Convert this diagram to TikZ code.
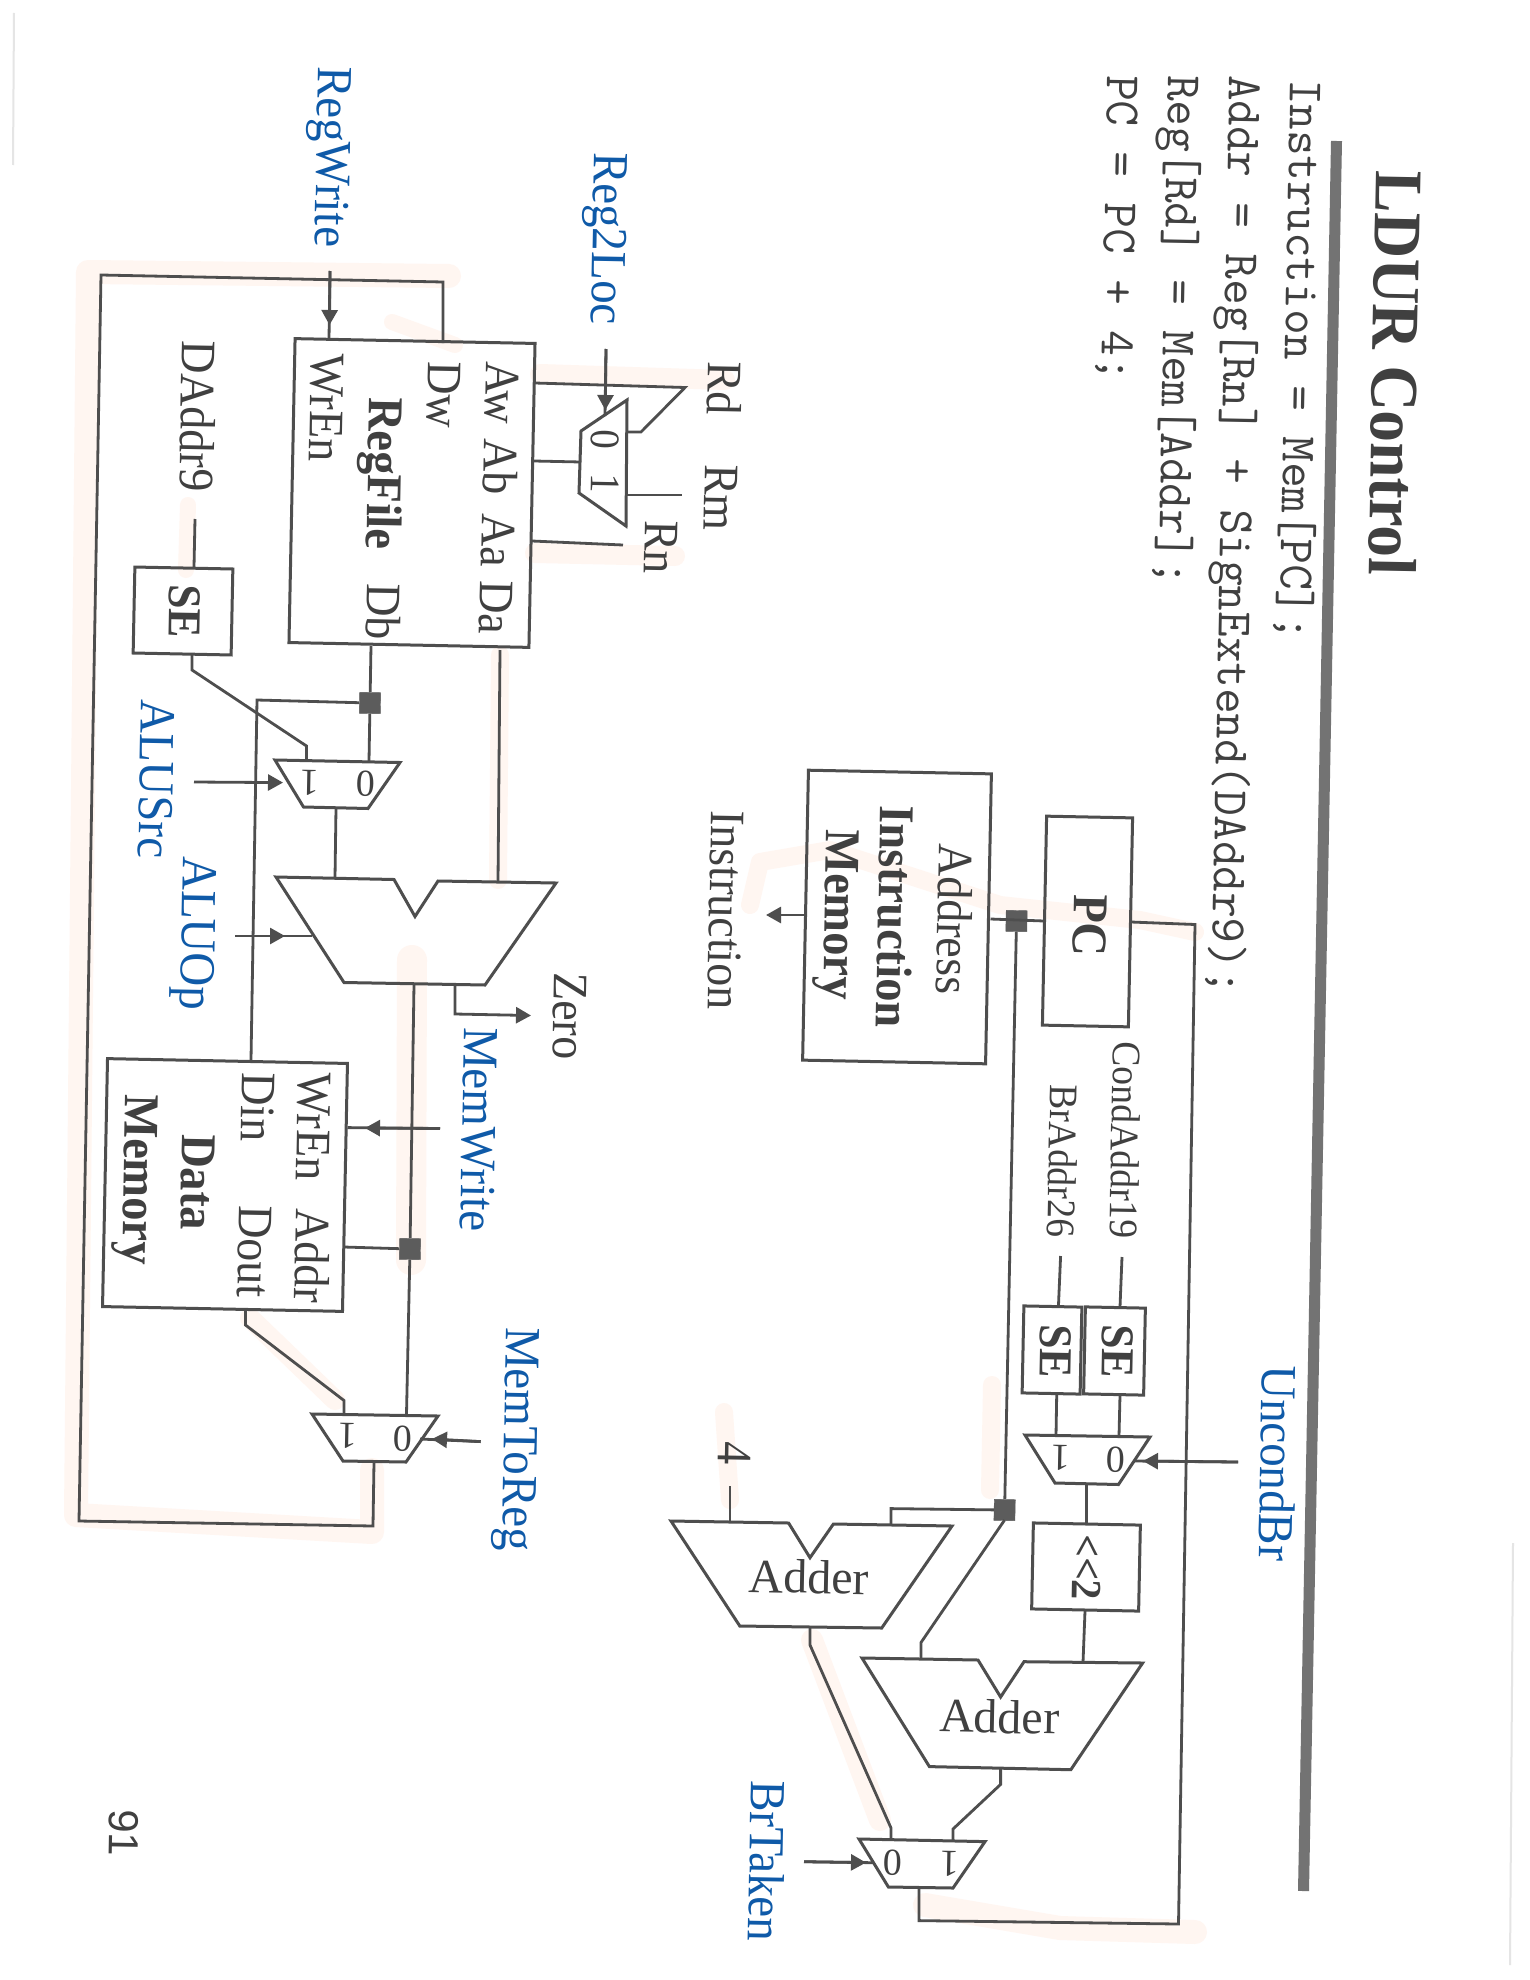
\documentclass[tikz,border=0pt]{standalone}
\usepackage{fontspec}
\setmainfont[FakeStretch=0.93]{Liberation Serif}
\newfontfamily\plainserif{Liberation Serif}
\newfontfamily\sansf{Liberation Sans}
\usetikzlibrary{arrows.meta}
\definecolor{ink}{HTML}{4E4E4E}
\definecolor{txt}{HTML}{404040}
\definecolor{sig}{HTML}{0F5AA8}
\definecolor{hl}{HTML}{FFF6F1}
\definecolor{rulec}{HTML}{737373}
\definecolor{dotc}{HTML}{5C5C5C}
\tikzset{
  wire/.style={draw=ink,line width=2.8pt,line join=miter},
  arr/.style={wire,-{Triangle[length=15pt,width=16pt]}},
  shapeline/.style={draw=ink,line width=3pt,line join=miter},
  boxn/.style={draw=ink,line width=3pt,rotate=-1.15,inner sep=0pt},
  dot/.style={draw=dotc,fill=dotc,rotate=-1.15,minimum size=21pt,inner sep=0pt},
  lab/.style={xshift=3.5pt,rotate=-91.1,anchor=base west,inner sep=0pt,text=txt,font=\fontsize{49.5}{52}\selectfont},
  labb/.style={lab,font=\fontsize{50}{52}\selectfont\bfseries},
  labs/.style={lab,font=\fontsize{40.5}{42}\selectfont},
  labse/.style={lab,font=\fontsize{47}{49}\selectfont\bfseries},
  ctl/.style={lab,text=sig,font=\fontsize{50.5}{52}\selectfont},
  code/.style={lab,text=txt,font=\fontsize{49.6}{52}\selectfont\ttfamily},
  digit/.style={rotate=178.9,inner sep=0pt,text=txt,font=\fontsize{38}{40}\selectfont\plainserif},
  digitr/.style={rotate=-91.1,inner sep=0pt,text=txt,font=\fontsize{42}{44}\selectfont},
  addertxt/.style={rotate=-1.1,inner sep=0pt,text=txt,font=\fontsize{48}{50}\selectfont\plainserif},
  high/.style={draw=hl,line width=24pt,line join=round,line cap=round},
  margin/.style={draw=black!10,line width=2pt}
}
\begin{document}
\begin{tikzpicture}[x=1pt,y=-1pt]
\useasboundingbox (0,0) rectangle (1530,1980);
\fill[white] (0,0) rectangle (1530,1980);

% scan margins
\draw[margin] (14,13) -- (13,165);
\draw[margin] (1513,1543) -- (1510,1965);

% highlighter
\draw[high] (449,276) -- (88,272) -- (76,1515) -- (372,1532) -- (372,1470);
\draw[high,line width=20pt] (540,374) -- (725,380);
\draw[high,line width=20pt] (535,553) -- (675,556);
\draw[high,line width=16pt] (392,322) -- (455,345);
\draw[high,line width=18pt] (500,655) -- (498,880);
\draw[high,line width=16pt] (188,505) -- (186,570);
\draw[high,line width=30pt] (412,960) -- (411,1260);
\draw[high,line width=20pt] (250,1318) -- (335,1400);
\draw[high,line width=18pt] (750,905) -- (760,862) -- (830,850) -- (1000,905) -- (1140,920) -- (1195,932);
\draw[high,line width=24pt] (925,1905) -- (1060,1928) -- (1195,1932);
\draw[high,line width=22pt] (812,1640) -- (880,1820);
\draw[high,line width=18pt] (724,1412) -- (730,1500);
\draw[high,line width=18pt] (992,1385) -- (990,1490);

% title, rule, code
\node[lab,font=\fontsize{68}{70}\selectfont\bfseries] (title) at (1373,170) {LDUR Control};
\draw[draw=rulec,line width=11pt] (1336.5,141) -- (1303.5,1891);
\node[code] (c1) at (1287,79) {Instruction = Mem[PC];};
\node[code] (c2) at (1226,75) {Addr = Reg[Rn] + SignExtend(DAddr9);};
\node[code] (c3) at (1165,75) {Reg[Rd] = Mem[Addr];};
\node[code] (c4) at (1104,75) {PC = PC + 4;};
\node[lab,font=\fontsize{42}{44}\selectfont\sansf] (pageno) at (106,1809) {91};

% boxes
\node[boxn,minimum width=240pt,minimum height=304pt] (regfile) at (412,493) {};
\node[boxn,minimum width=98pt,minimum height=86pt] (seD) at (183,611) {};
\node[boxn,minimum width=240pt,minimum height=248pt] (dmem) at (225,1185) {};
\node[boxn,minimum width=183pt,minimum height=290pt] (imem) at (897,917) {};
\node[boxn,minimum width=86pt,minimum height=209pt] (pc) at (1087.5,921.5) {};
\node[boxn,minimum width=60pt,minimum height=87pt] (seC) at (1114.5,1351) {};
\node[boxn,minimum width=58pt,minimum height=87pt] (seB) at (1052,1350) {};
\node[boxn,minimum width=107pt,minimum height=86pt] (shift) at (1086,1567) {};

% trapezoids
\draw[shapeline] (581,431) -- (627,400) -- (626,526) -- (579,493) -- cycle;
\draw[shapeline] (275,760) -- (400,762.5) -- (368,808.5) -- (303.5,807) -- cycle;
\draw[shapeline] (312,1414) -- (438,1416) -- (406,1462) -- (343,1461) -- cycle;
\draw[shapeline] (1025,1435) -- (1150,1437) -- (1118.5,1484.5) -- (1055,1483) -- cycle;
\draw[shapeline] (859,1839) -- (985,1841.6) -- (953,1888) -- (888.4,1887) -- cycle;
\draw[shapeline] (276,877) -- (394,879.5) -- (415,916.5) -- (438,881) -- (556,883) -- (485,985) -- (344,982.5) -- cycle;
\draw[shapeline] (671,1521) -- (788.6,1523) -- (810,1557.7) -- (833.4,1524) -- (952,1526) -- (881.7,1628) -- (739.8,1626) -- cycle;
\draw[shapeline] (862,1658) -- (978,1660) -- (1000.6,1697) -- (1024,1661.7) -- (1142.6,1663) -- (1070.8,1769.7) -- (929.4,1766.6) -- cycle;

% junctions
\node[dot] (jDb) at (370,703) {};
\node[dot] (jAlu) at (410,1249) {};
\node[dot] (jPc) at (1016.5,921) {};
\node[dot] (jAdd) at (1004.6,1510) {};

% ports
\coordinate (rfDw) at (443,343);
\coordinate (fbA) at (443,282);
\coordinate (fbB) at (101,275);
\coordinate (fbC) at (79,1521);
\coordinate (fbD) at (373,1526);
\coordinate (mtrOut) at (374,1462);
\coordinate (rwS) at (330,271);
\coordinate (rwT) at (329.5,325);
\coordinate (rwE) at (329,339);
\coordinate (rfAw) at (535,383);
\coordinate (rdA) at (685,387.5);
\coordinate (rdB) at (641,432);
\coordinate (mR0) at (627,432);
\coordinate (rfAb) at (534,461);
\coordinate (mRout) at (581,462);
\coordinate (mR1) at (627,495);
\coordinate (rmE) at (682,495);
\coordinate (rfAa) at (532,541);
\coordinate (rnE) at (623,545);
\coordinate (r2lS) at (606,349);
\coordinate (r2lT) at (605.3,410);
\coordinate (r2lE) at (605,416);
\coordinate (daS) at (195,519);
\coordinate (daE) at (194,567);
\coordinate (seDo) at (192,654);
\coordinate (seDa) at (192,670);
\coordinate (seDb) at (306.5,746);
\coordinate (mA1) at (306.5,759);
\coordinate (rfDb) at (371,646);
\coordinate (mA0) at (369,761);
\coordinate (dinA) at (257,700);
\coordinate (dmDin) at (251,1060);
\coordinate (rfDa) at (500,650);
\coordinate (aluA) at (498,882);
\coordinate (mAout) at (336,808);
\coordinate (aluB) at (335,878);
\coordinate (asS) at (194,782);
\coordinate (asT) at (283,782.6);
\coordinate (aoS) at (235,936);
\coordinate (aoT) at (285,936);
\coordinate (aoE) at (312,936);
\coordinate (aluOut) at (414,984);
\coordinate (mM0) at (406.5,1414);
\coordinate (zS) at (455,984);
\coordinate (zB) at (455,1014);
\coordinate (zT) at (531,1015.5);
\coordinate (mwS) at (440,1128.5);
\coordinate (mwT) at (365,1128);
\coordinate (mwE) at (347.5,1127.6);
\coordinate (dmAddr) at (344,1247);
\coordinate (dmDout) at (245.5,1310);
\coordinate (doA) at (245.5,1325);
\coordinate (doB) at (344,1400.5);
\coordinate (mM1) at (344,1414);
\coordinate (mtS) at (480.7,1441.6);
\coordinate (mtT) at (432,1439);
\coordinate (mtE) at (420,1439);
\coordinate (pcL) at (1044,921);
\coordinate (imA) at (990.5,919);
\coordinate (imO) at (804,915);
\coordinate (imT) at (766,915);
\coordinate (pcR) at (1131,922);
\coordinate (fpA) at (1195,924.5);
\coordinate (fpB) at (1178.5,1924);
\coordinate (fpC) at (919,1920.6);
\coordinate (mBout) at (919,1888);
\coordinate (caS) at (1122,1257);
\coordinate (caE) at (1120,1307);
\coordinate (baS) at (1060.6,1256);
\coordinate (baE) at (1058.4,1307);
\coordinate (seCo) at (1120,1395);
\coordinate (mU0) at (1119,1436);
\coordinate (seBo) at (1056.7,1395);
\coordinate (mU1) at (1056,1436);
\coordinate (ubS) at (1238,1462);
\coordinate (ubT) at (1143,1461);
\coordinate (ubE) at (1134,1461);
\coordinate (mUo) at (1086.5,1484);
\coordinate (shT) at (1086.5,1524);
\coordinate (shB) at (1085,1611);
\coordinate (addR) at (1083,1662.6);
\coordinate (j1a) at (891,1508.6);
\coordinate (j1b) at (891,1524.6);
\coordinate (j2a) at (1004.6,1520);
\coordinate (j2b) at (921,1642.5);
\coordinate (j2c) at (921,1659.4);
\coordinate (fourS) at (730,1486);
\coordinate (fourE) at (730,1521);
\coordinate (a1o) at (810,1628);
\coordinate (a1a) at (810,1645);
\coordinate (a1b) at (891,1828);
\coordinate (mB0) at (891,1840);
\coordinate (a2o) at (1000.6,1769);
\coordinate (a2a) at (1000.6,1784.4);
\coordinate (a2b) at (953,1829);
\coordinate (mB1) at (953,1841);
\coordinate (btS) at (804,1861.7);
\coordinate (btT) at (866,1862.6);
\coordinate (btE) at (873,1862.7);

% wires
\draw[wire] (rfDw) -- (fbA) -- (fbB) -- (fbC) -- (fbD) -- (mtrOut);
\draw[wire] (rwS) -- (rwE);
\draw[arr] (rwS) -- (rwT);
\draw[wire] (rfAw) -- (rdA) -- (rdB) -- (mR0);
\draw[wire] (rfAb) -- (mRout);
\draw[wire] (mR1) -- (rmE);
\draw[wire] (rfAa) -- (rnE);
\draw[wire] (r2lS) -- (r2lE);
\draw[arr] (r2lS) -- (r2lT);
\draw[wire] (daS) -- (daE);
\draw[wire] (seDo) -- (seDa) -- (seDb) -- (mA1);
\draw[wire] (rfDb) -- (jDb) -- (mA0);
\draw[wire] (jDb) -- (dinA) -- (dmDin);
\draw[wire] (rfDa) -- (aluA);
\draw[wire] (mAout) -- (aluB);
\draw[arr] (asS) -- (asT);
\draw[wire] (aoS) -- (aoE);
\draw[arr] (aoS) -- (aoT);
\draw[wire] (aluOut) -- (jAlu) -- (mM0);
\draw[arr] (zS) -- (zB) -- (zT);
\draw[wire] (mwS) -- (mwE);
\draw[arr] (mwS) -- (mwT);
\draw[wire] (dmAddr) -- (jAlu);
\draw[wire] (dmDout) -- (doA) -- (doB) -- (mM1);
\draw[wire] (mtS) -- (mtE);
\draw[arr] (mtS) -- (mtT);
\draw[wire] (pcL) -- (imA);
\draw[arr] (imO) -- (imT);
\draw[wire] (pcR) -- (fpA) -- (fpB) -- (fpC) -- (mBout);
\draw[wire] (jPc) -- (jAdd);
\draw[wire] (caS) -- (caE);
\draw[wire] (baS) -- (baE);
\draw[wire] (seCo) -- (mU0);
\draw[wire] (seBo) -- (mU1);
\draw[wire] (ubS) -- (ubE);
\draw[arr] (ubS) -- (ubT);
\draw[wire] (mUo) -- (shT);
\draw[wire] (shB) -- (addR);
\draw[wire] (jAdd) -- (j1a) -- (j1b);
\draw[wire] (j2a) -- (j2b) -- (j2c);
\draw[wire] (fourS) -- (fourE);
\draw[wire] (a1o) -- (a1a) -- (a1b) -- (mB0);
\draw[wire] (a2o) -- (a2a) -- (a2b) -- (mB1);
\draw[wire] (btS) -- (btE);
\draw[arr] (btS) -- (btT);

% control labels
\node[ctl] (lRegWrite) at (315,66) {RegWrite};
\node[ctl] (lReg2Loc) at (591,152) {Reg2Loc};
\node[ctl] (lALUSrc) at (138,699) {ALUSrc};
\node[ctl] (lALUOp) at (180,856) {ALUOp};
\node[ctl] (lMemWrite) at (461,1027) {MemWrite};
\node[ctl] (lMemToReg) at (503,1327) {MemToReg};
\node[ctl] (lUncondBr) at (1259,1365) {UncondBr};
\node[ctl] (lBrTaken) at (748,1780) {BrTaken};

% datapath labels
\node[lab] (lRd) at (705,361) {Rd};
\node[lab] (lRm) at (702,464) {Rm};
\node[lab] (lRn) at (642,520) {Rn};
\node[lab] (lAw) at (483,361) {Aw};
\node[lab] (lAb) at (481,438) {Ab};
\node[lab] (lAa) at (479,513) {Aa};
\node[lab] (lDa) at (477,580) {Da};
\node[lab] (lDw) at (425,361) {Dw};
\node[labb] (lRF) at (366,397) {RegFile};
\node[lab] (lDb) at (364,583) {Db};
\node[lab] (lWrEn) at (308,353) {WrEn};
\node[lab] (lDA9) at (179,340) {DAddr9};
\node[labse] (lSE1) at (166,584) {SE};
\node[lab] (lZero) at (551,972) {Zero};
\node[lab] (lInstr) at (708,810) {Instruction};
\node[lab] (lWrEn2) at (295,1072) {WrEn};
\node[lab] (lAddr) at (293,1208) {Addr};
\node[lab] (lDin) at (239,1072) {Din};
\node[lab] (lDout) at (236,1205) {Dout};
\node[labb] (lData) at (179,1134) {Data};
\node[labb] (lMem) at (122,1094) {Memory};
\node[lab] (lFour) at (715,1441) {4};
\node[lab] (lAddress) at (936,843) {Address};
\node[labb] (lIM1) at (877,805) {Instruction};
\node[labb] (lIM2) at (823,829) {Memory};
\node[labb] (lPC) at (1071,894) {PC};
\node[labs] (lCond) at (1110,1041.5) {CondAddr19};
\node[labs] (lBr) at (1047,1084) {BrAddr26};
\node[labse] (lSE2) at (1099,1324) {SE};
\node[labse] (lSE3) at (1037,1324) {SE};
\node[lab,font=\fontsize{43}{45}\selectfont\bfseries] (lShift) at (1070,1534) {<{}<{}2};
\node[addertxt] (lAdder1) at (808.8,1577) {Adder};
\node[addertxt] (lAdder2) at (999.5,1716.6) {Adder};

% mux digits
\node[digitr] (d1) at (605,440) {0};
\node[digitr] (d2) at (605,484) {1};
\node[digit] (d3) at (310,782.6) {1};
\node[digit] (d4) at (366,784) {0};
\node[digit] (d5) at (347.5,1436) {1};
\node[digit] (d6) at (402.6,1438.5) {0};
\node[digit] (d7) at (1061,1458) {1};
\node[digit] (d8) at (1115.6,1460) {0};
\node[digit] (d9) at (893,1863) {0};
\node[digit] (d10) at (950,1863.4) {1};
\end{tikzpicture}
\end{document}
